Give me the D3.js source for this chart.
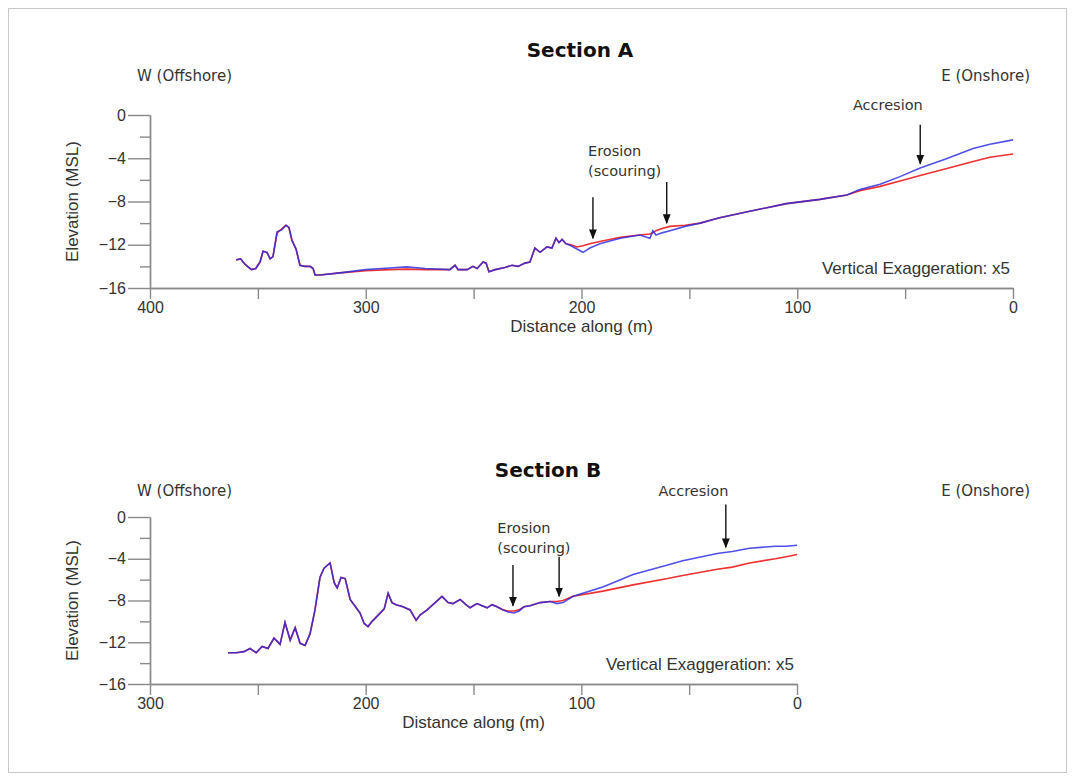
<!DOCTYPE html>
<html>
<head>
<meta charset="utf-8">
<title>Sections A and B</title>
<script src="https://d3js.org/d3.v7.min.js"></script>
<style>
  body { margin: 0; background: #fff; }
  svg text { font-family: 'DejaVu Sans', Verdana, sans-serif; fill: #333; }
  .title { font-weight: bold; font-size: 20px; fill: #111; }
  .side { font-size: 15px; }
  .note { font-size: 14.5px; }
  .axis text { font-family: 'Liberation Sans', Arial, sans-serif; font-size: 16px; fill: #333; }
  .axis path, .axis line { stroke: #8a8a8a; stroke-width: 1.4; }
  .lbl { font-family: 'Liberation Sans', Arial, sans-serif !important; font-size: 17px; }
</style>
</head>
<body>
<svg id="chart" width="1075" height="781"></svg>
<script>
// Section A: distance along (m) and elevation (m MSL), red = earlier survey, blue = later survey
var distA = [360, 358, 356, 353, 351, 349, 347.6, 345.8, 344.3, 343, 341.1, 338.8, 337, 335.6, 334.2, 332.3,
  330.5, 328.2, 325.8, 324.4, 323.5, 321.2, 312, 300, 289, 281, 272.5, 261, 258.6, 257.2, 253, 250.3, 248.4,
  245.6, 244.2, 242.9, 240, 235.5, 232.2, 229.4, 226.2, 223.9, 221.6, 219.2, 216, 213.7, 211.8, 210.4, 209,
  207.2, 204.9, 202.1, 199.3, 196.1, 191.5, 182, 173, 168.3, 166.9, 165.5, 162.7, 159, 152, 145, 136, 122,
  105, 89.5, 77, 71, 61.6, 52.4, 43, 31.5, 18.5, 10.7, 0];
var redA = [-13.4, -13.3, -13.8, -14.3, -14.2, -13.6, -12.6, -12.7, -13.3, -13.1, -10.9, -10.5, -10.2, -10.4, -11.6, -12.4,
  -13.9, -14, -14, -14.2, -14.8, -14.8, -14.6, -14.4, -14.3, -14.25, -14.3, -14.3, -13.9, -14.3, -14.3, -14, -14.2,
  -13.6, -13.7, -14.5, -14.3, -14.1, -13.9, -14, -13.7, -13.6, -12.3, -12.7, -12.2, -12.3, -11.4, -11.8, -11.5,
  -11.9, -12, -12.2, -12.1, -11.9, -11.7, -11.3, -11.1, -11, -10.9, -10.7, -10.5, -10.3, -10.2, -10, -9.5, -8.9,
  -8.2, -7.8, -7.4, -7, -6.6, -6.1, -5.6, -5, -4.3, -3.9, -3.6];
var blueA = [-13.4, -13.3, -13.8, -14.3, -14.2, -13.6, -12.6, -12.7, -13.3, -13.1, -10.8, -10.6, -10.2, -10.4, -11.6, -12.4,
  -13.9, -14, -14, -14.2, -14.8, -14.8, -14.6, -14.3, -14.15, -14.05, -14.2, -14.3, -13.9, -14.3, -14.3, -14, -14.2,
  -13.6, -13.7, -14.5, -14.3, -14.1, -13.9, -14, -13.7, -13.6, -12.3, -12.7, -12.2, -12.3, -11.4, -11.8, -11.5,
  -11.9, -12.1, -12.4, -12.7, -12.3, -11.9, -11.4, -11.1, -11.4, -10.7, -11.1, -10.9, -10.7, -10.3, -10, -9.5, -8.9,
  -8.2, -7.8, -7.4, -6.9, -6.4, -5.7, -4.9, -4.1, -3.1, -2.7, -2.3];

// Section B
var distB = [263.8, 260.1, 256.4, 253.6, 250.8, 248, 245.3, 242.5, 239.7, 237.4, 235, 232.7, 230.4, 228.1, 225.8,
  223.5, 221.2, 219.3, 216.5, 214.6, 213.2, 211.4, 209.5, 207.2, 204.4, 202.6, 200.7, 198.9, 197, 194.2, 191.4,
  189.6, 187.8, 185.9, 182.7, 179.4, 176.6, 174.8, 171.5, 168.3, 164.6, 161.8, 159.5, 156.2, 153.5, 151.6, 148.4,
  146, 143.7, 141.4, 139.1, 136.3, 134, 131.2, 128.9, 126.6, 123.8, 119.1, 114.5, 111.3, 108.5, 103.8, 90, 76,
  60, 53, 37, 30, 22, 10, 5, 0];
var redB = [-13, -13, -12.9, -12.6, -13, -12.4, -12.6, -11.6, -12.2, -10.1, -11.8, -10.6, -12.1, -12.3, -11.2,
  -8.9, -5.8, -4.9, -4.4, -6.3, -6.8, -5.8, -5.9, -7.9, -8.7, -9.2, -10.2, -10.5, -10, -9.4, -8.8,
  -7.3, -8.2, -8.4, -8.6, -8.9, -9.9, -9.4, -8.9, -8.3, -7.6, -8.2, -8.3, -7.9, -8.4, -8.7, -8.3,
  -8.5, -8.7, -8.4, -8.6, -8.9, -9, -9, -8.9, -8.6, -8.5, -8.2, -8.1, -8.1, -8, -7.6, -7.1, -6.5,
  -5.9, -5.6, -5, -4.8, -4.4, -4, -3.8, -3.6];
var blueB = [-13, -13, -12.9, -12.6, -13, -12.4, -12.6, -11.6, -12.2, -10.1, -11.8, -10.6, -12.1, -12.3, -11.2,
  -8.9, -5.8, -4.9, -4.4, -6.3, -6.8, -5.8, -5.9, -7.9, -8.7, -9.2, -10.2, -10.5, -10, -9.4, -8.8,
  -7.3, -8.2, -8.4, -8.6, -8.9, -9.9, -9.4, -8.9, -8.3, -7.6, -8.2, -8.3, -7.9, -8.4, -8.7, -8.3,
  -8.5, -8.7, -8.4, -8.6, -8.9, -9.1, -9.2, -9, -8.6, -8.5, -8.2, -8.1, -8.3, -8.2, -7.6, -6.7, -5.5,
  -4.6, -4.2, -3.5, -3.3, -3, -2.8, -2.8, -2.7];

var majorY = [0, -4, -8, -12, -16];
var minorY = [-2, -6, -10, -14];
var majorXA = [400, 300, 200, 100, 0];
var minorXA = [350, 250, 150, 50];
var majorXB = [300, 200, 100, 0];
var minorXB = [250, 150, 50];

var svg = d3.select("#chart");

svg.append("defs").append("marker")
  .attr("id", "head")
  .attr("viewBox", "0 0 10 10")
  .attr("refX", 9).attr("refY", 5)
  .attr("markerWidth", 7).attr("markerHeight", 7)
  .attr("orient", "auto")
  .append("path").attr("d", "M0,1 L10,5 L0,9 Z").attr("fill", "#111");

// outer frame
svg.append("rect")
  .attr("x", 8.5).attr("y", 8.5).attr("width", 1058).attr("height", 764)
  .attr("fill", "none").attr("stroke", "#c8c8c8");

function section(opt) {
  var x = d3.scaleLinear().domain(opt.xDomain).range([150, opt.right]);
  var y = d3.scaleLinear().domain([0, -16]).range([opt.top, opt.bottom]);
  var g = svg.append("g");

  // minor + major x ticks
  g.append("g").attr("class", "axis")
    .attr("transform", "translate(0," + opt.bottom + ")")
    .call(d3.axisBottom(x).tickValues(opt.minorX).tickSize(11).tickSizeOuter(0).tickFormat(""));
  g.append("g").attr("class", "axis")
    .attr("transform", "translate(0," + opt.bottom + ")")
    .call(d3.axisBottom(x).tickValues(opt.majorX).tickSize(11).tickSizeOuter(0).tickPadding(3).tickFormat(d3.format("d")));

  g.append("g").attr("class", "axis")
    .attr("transform", "translate(150,0)")
    .call(d3.axisLeft(y).tickValues(minorY).tickSize(10).tickSizeOuter(0).tickFormat(""));
  g.append("g").attr("class", "axis")
    .attr("transform", "translate(150,0)")
    .call(d3.axisLeft(y).tickValues(majorY).tickSize(22).tickSizeOuter(0).tickPadding(2).tickFormat(d3.format("d")));

  var line = d3.line().x(function (d) { return x(d[0]); }).y(function (d) { return y(d[1]); });

  g.append("path")
    .datum(opt.dist.map(function (d, i) { return [d, opt.red[i]]; }))
    .attr("d", line).attr("fill", "none").attr("stroke", "#ee3030").attr("stroke-width", 1.6);
  g.append("path")
    .datum(opt.dist.map(function (d, i) { return [d, opt.blue[i]]; }))
    .attr("d", line).attr("fill", "none").attr("stroke", "#2a2ae0").attr("stroke-width", 1.6)
    .attr("stroke-opacity", 0.82);

  // titles and labels
  g.append("text").attr("class", "title").attr("x", opt.titleX).attr("y", opt.titleY)
    .attr("text-anchor", "middle").text(opt.title);
  g.append("text").attr("class", "side").attr("x", 137).attr("y", opt.sideY).text("W (Offshore)");
  g.append("text").attr("class", "side").attr("x", 1030).attr("y", opt.sideY)
    .attr("text-anchor", "end").text("E (Onshore)");

  g.append("text").attr("class", "lbl")
    .attr("transform", "translate(78," + ((opt.top + opt.bottom) / 2) + ") rotate(-90)")
    .attr("text-anchor", "middle").text("Elevation (MSL)");
  g.append("text").attr("class", "lbl")
    .attr("x", (150 + opt.right) / 2).attr("y", opt.bottom + 44)
    .attr("text-anchor", "middle").text("Distance along (m)");
  g.append("text").attr("class", "lbl")
    .attr("x", opt.right - 3).attr("y", opt.bottom - 14)
    .attr("text-anchor", "end").text("Vertical Exaggeration: x5");

  // annotations
  opt.arrows.forEach(function (a) {
    g.append("line")
      .attr("x1", x(a[0])).attr("x2", x(a[0]))
      .attr("y1", y(a[1])).attr("y2", y(a[2]))
      .attr("stroke", "#111").attr("stroke-width", 1.4)
      .attr("marker-end", "url(#head)");
  });
  g.append("text").attr("class", "note").attr("x", x(opt.erosion[0])).attr("y", y(opt.erosion[1]))
    .text("Erosion");
  g.append("text").attr("class", "note").attr("x", x(opt.erosion[0])).attr("y", y(opt.erosion[1]) + 20)
    .text("(scouring)");
  g.append("text").attr("class", "note").attr("x", x(opt.accresion[0])).attr("y", y(opt.accresion[1]))
    .attr("text-anchor", "middle").text("Accresion");
}

section({
  title: "Section A", titleX: 580, titleY: 57, sideY: 81,
  xDomain: [400, 0], right: 1013, top: 115, bottom: 288,
  majorX: majorXA, minorX: minorXA,
  dist: distA, red: redA, blue: blueA,
  arrows: [[194.7, -7.6, -11.4], [160.5, -6.2, -10.0], [43, -0.9, -4.5]],
  erosion: [197, -3.8], accresion: [58, 0.5]
});

section({
  title: "Section B", titleX: 548, titleY: 477, sideY: 496,
  xDomain: [300, 0], right: 797, top: 517, bottom: 684,
  majorX: majorXB, minorX: minorXB,
  dist: distB, red: redB, blue: blueB,
  arrows: [[131.7, -4.6, -8.5], [110.3, -3.8, -7.6], [33, 1.2, -2.9]],
  erosion: [139, -1.5], accresion: [48, 2.0]
});
</script>
</body>
</html>
